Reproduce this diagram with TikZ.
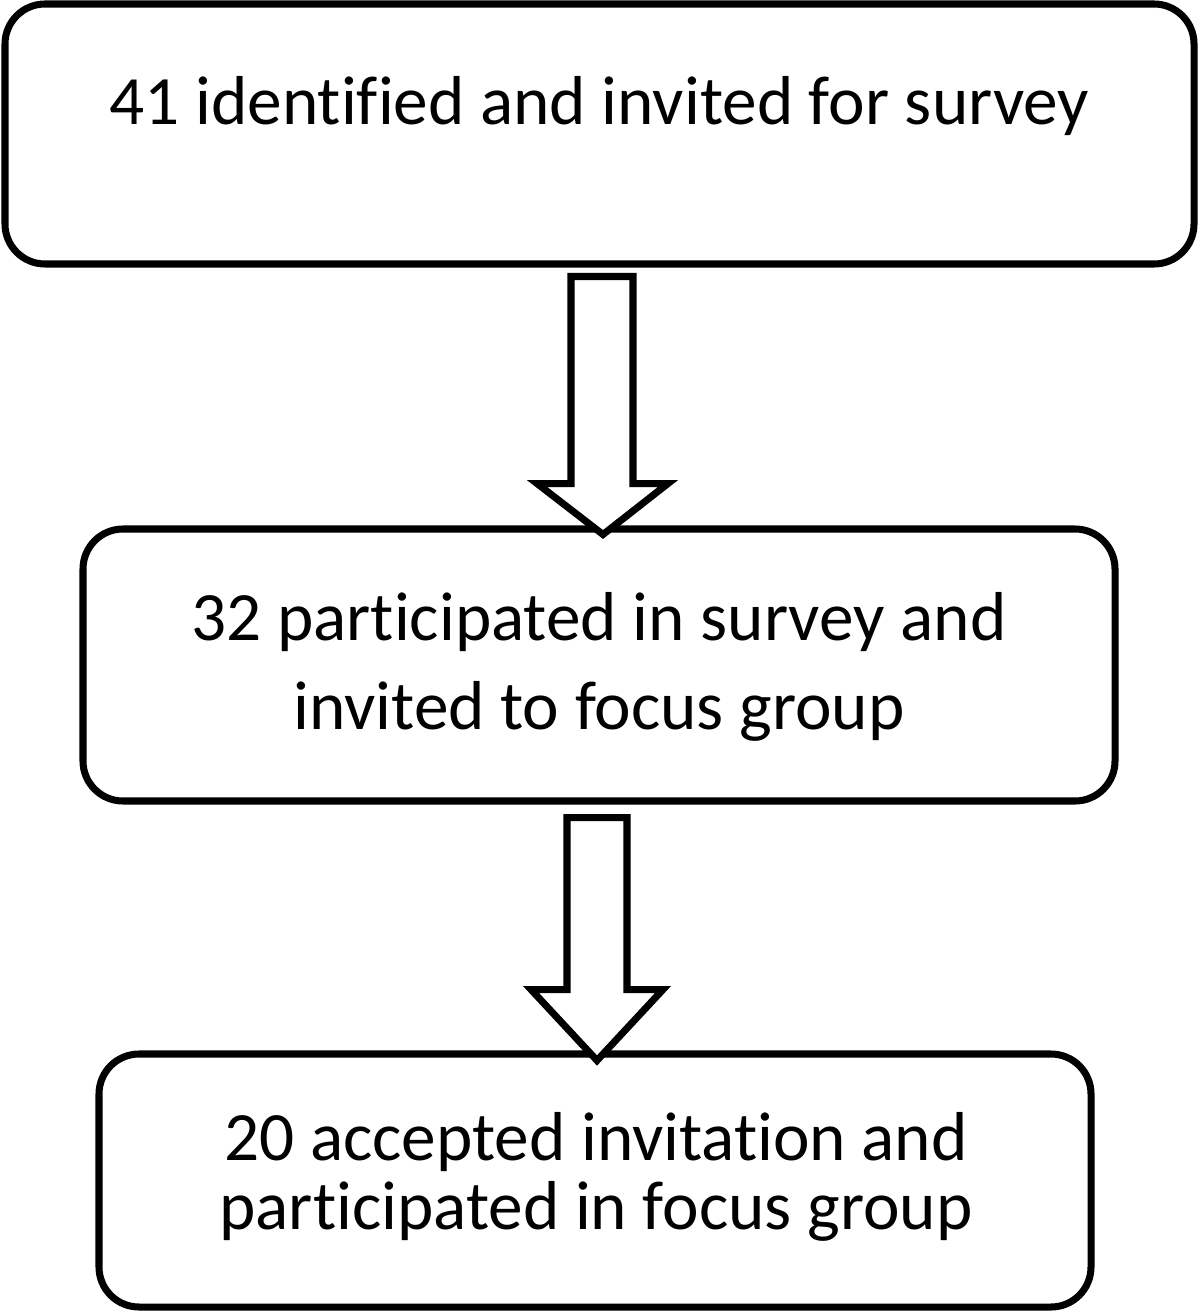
\documentclass[tikz,border=0pt]{standalone}
\usepackage{fontspec}
\setmainfont{Carlito}[Ligatures={NoCommon}]
\usetikzlibrary{calc}

\begin{document}
\begin{tikzpicture}[box/.style={draw,line width=2pt,rounded corners=0.4cm,inner sep=0pt},
  txt/.style={align=center,font=\fontsize{19.7}{25.3}\selectfont,anchor=base},
  blockarrow/.style={draw,line width=2pt,fill=white,line join=miter}]
  \useasboundingbox (0,0) rectangle (12,-13.14);
  \node[box,minimum width=11.89cm,minimum height=2.60cm] (survey) at (5.995,-1.34) {};
  \node[box,minimum width=10.32cm,minimum height=2.72cm] (focus) at (5.99,-6.65) {};
  \node[box,minimum width=9.92cm,minimum height=2.53cm] (accepted) at (5.95,-11.805) {};

  \node[txt] (t1) at ($(survey.north)+(0,-1.24)$) {41 identified and invited for survey};
  \node[txt] (t2) at ($(focus.north)+(0,-2.04)$) {32 participated in survey and\\invited to focus group};
  \node[txt,font=\fontsize{19.7}{19.5}\selectfont] (t3) at ($(accepted.north)+(0.01,-1.79)$) {20 accepted invitation and\\participated in focus group};

  \draw[blockarrow] ($(survey.south)+(-0.285,-0.09)$) -- ++(0,-2.07) -- ++(-0.34,0)
    -- ($(focus.north)+(0.04,-0.09)$) -- ($(survey.south)+(0.685,-2.16)$) -- ++(-0.35,0)
    -- ($(survey.south)+(0.335,-0.09)$) -- cycle;
  \draw[blockarrow] ($(focus.south)+(-0.32,-0.13)$) -- ++(0,-1.72) -- ++(-0.36,0)
    -- ($(accepted.north)+(0.02,-0.10)$) -- ($(focus.south)+(0.64,-1.85)$) -- ++(-0.36,0)
    -- ($(focus.south)+(0.28,-0.13)$) -- cycle;
\end{tikzpicture}
\end{document}
